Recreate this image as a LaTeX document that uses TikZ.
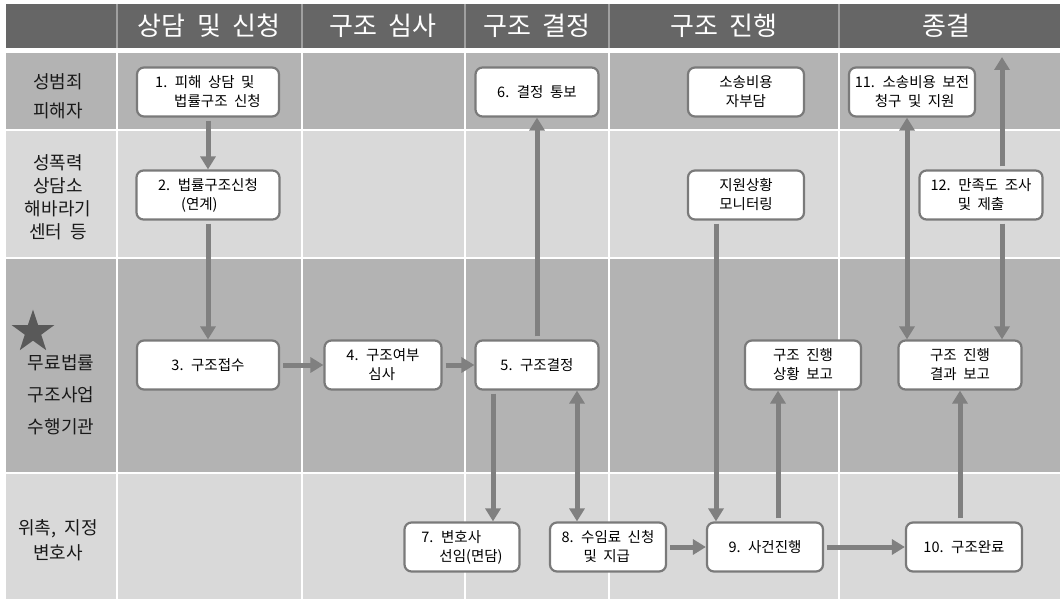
\documentclass[tikz,border=0pt]{standalone}
\usepackage{fontspec}
\setmainfont[WordSpace=2]{Noto Sans CJK KR}
\usetikzlibrary{arrows.meta,shapes.geometric}
\definecolor{headgray}{HTML}{666666}
\definecolor{headsep}{HTML}{A0A0A0}
\definecolor{lanedark}{HTML}{B3B3B3}
\definecolor{lanelight}{HTML}{D9D9D9}
\definecolor{boxgray}{HTML}{7A7A7A}
\definecolor{arrowgray}{HTML}{808080}
\definecolor{stargray}{HTML}{595959}
\begin{document}
\begin{tikzpicture}[x=1pt, y=-1pt,
    main node/.style={draw=boxgray, fill=white, line width=2.2pt, rounded corners=7pt,
      minimum height=49pt, inner sep=1pt, font=\fontsize{14.5}{19}\selectfont},
    head/.style={text=white, font=\fontsize{26}{28}\selectfont},
    lane/.style={text=black!90},
    flow/.style={draw=arrowgray, line width=5pt, shorten <=3pt, -{Triangle[width=15pt,length=13pt]}},
    both/.style={draw=arrowgray, line width=5pt, {Triangle[width=15pt,length=13pt]}-{Triangle[width=15pt,length=13pt]}}]
  \tikzstyle{every node}=[align=center]

  \useasboundingbox (0,0) rectangle (1060,599);
  % lanes
  \fill[headgray] (6,4) rectangle (1060,48);
  \fill[lanedark] (6,53) rectangle (1060,129);
  \fill[lanelight] (6,131) rectangle (1060,257);
  \fill[lanedark] (6,259) rectangle (1060,472);
  \fill[lanelight] (6,474) rectangle (1060,599);
  \foreach \x in {117,302,465,609,839}{
    \draw[headsep, line width=1.5pt] (\x,4) -- (\x,48);
    \draw[white, line width=2pt] (\x,53) -- (\x,599);
  }

  % column heads
  \node[head] (h1) at (209,26) {상담 및 신청};
  \node[head] (h2) at (383,26) {구조 심사};
  \node[head] (h3) at (537,26) {구조 결정};
  \node[head] (h4) at (724,26) {구조 진행};
  \node[head] (h5) at (946,26) {종결};

  % lane labels
  \node[lane, font=\fontsize{18}{29}\selectfont] (l1) at (58,96) {성범죄\\피해자};
  \node[lane, font=\fontsize{18}{23}\selectfont] (l2) at (58,197) {성폭력\\상담소\\해바라기\\센터 등};
  \node[star, star points=5, star point ratio=2.6, fill=stargray, minimum size=45pt, inner sep=0pt] (star) at (33,332) {};
  \node[lane, font=\fontsize{18}{32}\selectfont] (l3) at (61,395) {무료법률\\구조사업\\수행기관};
  \node[lane, font=\fontsize{18}{25}\selectfont] (l4) at (58,540) {위촉, 지정\\변호사};

  % steps
  \node[main node, minimum width=142pt, align=left] (1) at (208,92) {1. 피해 상담 및\\\hspace*{19pt}법률구조 신청};
  \node[main node, minimum width=123pt] (6) at (537,92) {6. 결정 통보};
  \node[main node, minimum width=116pt] (m1) at (746,92) {소송비용\\자부담};
  \node[main node, minimum width=126pt, align=left] (11) at (912,92) {11. 소송비용 보전\\\hspace*{20pt}청구 및 지원};
  \node[main node, minimum width=143pt, align=left] (2) at (208,195) {2. 법률구조신청\\\hspace*{23pt}(연계)};
  \node[main node, minimum width=116pt] (m2) at (746,195) {지원상황\\모니터링};
  \node[main node, minimum width=123pt] (12) at (981,195) {12. 만족도 조사\\및 제출};
  \node[main node, minimum width=142pt] (3) at (208,365) {3. 구조접수};
  \node[main node, minimum width=117pt, align=left] (4) at (383,365) {4. 구조여부\\\hspace*{22pt}심사};
  \node[main node, minimum width=123pt] (5) at (537,365) {5. 구조결정};
  \node[main node, minimum width=116pt] (r1) at (803,365) {구조 진행\\상황 보고};
  \node[main node, minimum width=123pt] (r2) at (960,365) {구조 진행\\결과 보고};
  \node[main node, minimum width=115pt, align=left] (7) at (462,547) {7. 변호사\\\hspace*{18pt}선임(면담)};
  \node[main node, minimum width=116pt, align=left] (8) at (608,547) {8. 수임료 신청\\\hspace*{22pt}및 지급};
  \node[main node, minimum width=116pt] (9) at (765,547) {9. 사건진행};
  \node[main node, minimum width=116pt] (10) at (964,547) {10. 구조완료};
  \coordinate (top) at (1002,57);

  \path (1) edge[flow] (2)
        (2) edge[flow] (3)
        (3) edge[flow] (4)
        (4) edge[flow] (5)
        (5) edge[flow] (6)
        ([xshift=-44pt]5.south) edge[flow] ([xshift=31pt]7.north)
        ([xshift=-31pt]8.north) edge[both] ([xshift=40pt]5.south)
        (8) edge[flow] (9)
        ([xshift=-30pt]m2.south) edge[flow] ([xshift=-49pt]9.north)
        ([xshift=13pt]9.north) edge[flow] ([xshift=-25pt]r1.south)
        (9) edge[flow] (10)
        ([xshift=-4pt]10.north) edge[flow] (r2.south)
        ([xshift=-53pt]r2.north) edge[both] ([xshift=-5pt]11.south)
        ([xshift=21pt]12.north) edge[flow] (top)
        ([xshift=21pt]12.south) edge[flow] ([xshift=42pt]r2.north);
\end{tikzpicture}
\end{document}
